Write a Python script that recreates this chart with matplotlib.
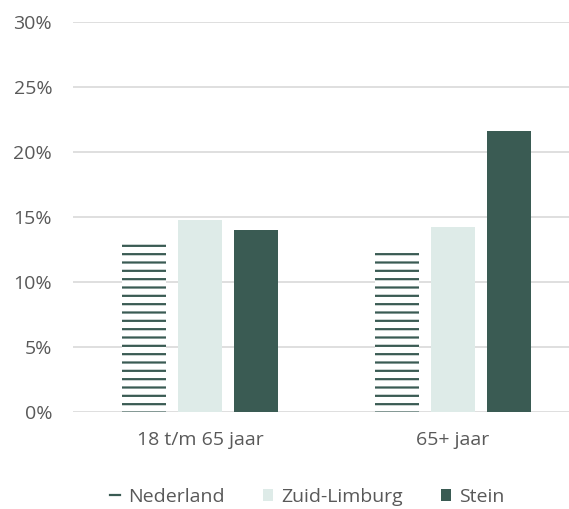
import matplotlib.pyplot as plt
import numpy as np
from matplotlib.lines import Line2D
from matplotlib.patches import Patch

plt.rcParams['font.family'] = ['Open Sans', 'DejaVu Sans']

categories = ['18 t/m 65 jaar', '65+ jaar']
series = ['Nederland', 'Zuid-Limburg', 'Stein']
nederland = [13.2, 12.6]
zuid_limburg = [14.8, 14.2]
stein = [14.0, 21.6]
yticks = [0, 5, 10, 15, 20, 25, 30]

dark = '#3a5b53'
light = '#deebe8'
text_col = '#595959'
grid_col = '#d9d9d9'

plt.rcParams['hatch.color'] = dark
plt.rcParams['hatch.linewidth'] = 1.6

fig = plt.figure(figsize=(5.69, 5.09), dpi=100)
ax = fig.add_axes([0.1283, 0.1906, 0.8717, 0.7662])

x = np.arange(len(categories))
w = 0.174
step = 0.221
ax.bar(x - step, nederland, w, color='white', linewidth=0, hatch='--', zorder=2)
ax.bar(x, zuid_limburg, w, color=light, linewidth=0, zorder=2)
ax.bar(x + step, stein, w, color=dark, linewidth=0, zorder=2)

ax.set_xlim(-0.502, 1.458)
ax.set_ylim(0, 30)
ax.set_yticks(yticks)
ax.set_yticklabels([f'{t}%' for t in yticks])
ax.set_xticks(x)
ax.set_xticklabels(categories)
ax.yaxis.grid(True, color=grid_col, linewidth=1.2, zorder=0)
ax.set_axisbelow(True)
for s in ax.spines.values():
    s.set_visible(False)
ax.tick_params(axis='both', length=0, labelsize=14, colors=text_col)
ax.tick_params(axis='y', pad=15)
ax.tick_params(axis='x', pad=14)

handles = [
    Line2D([0], [0], color=dark, linewidth=1.6),
    Patch(facecolor=light),
    Patch(facecolor=dark),
]
fig.legend(handles, series, loc='center', bbox_to_anchor=(0.54, 0.024),
           ncol=3, frameon=False, fontsize=14, labelcolor=text_col,
           handlelength=0.5, handleheight=0.6, handletextpad=0.4,
           columnspacing=2.0)

fig.savefig('out.png', dpi=100)
